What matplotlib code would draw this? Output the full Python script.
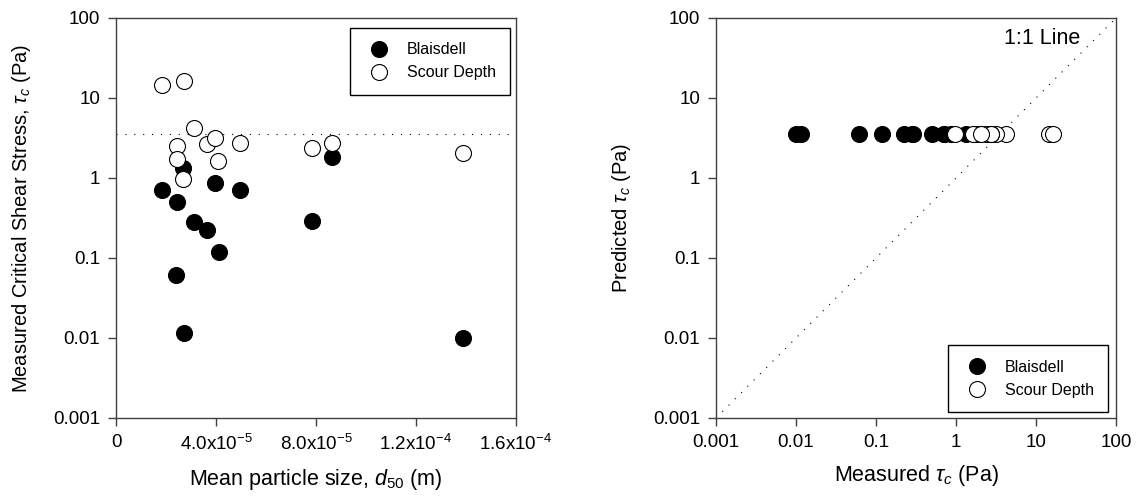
import numpy as np
import matplotlib
matplotlib.use("Agg")
import matplotlib.pyplot as plt

plt.rcParams['font.family'] = ['Liberation Sans', 'DejaVu Sans']
plt.rcParams['mathtext.fontset'] = 'custom'
plt.rcParams['mathtext.rm'] = 'Liberation Sans'
plt.rcParams['mathtext.it'] = 'Liberation Sans:italic'
plt.rcParams['mathtext.default'] = 'regular'

# Blaisdell jet test data: d50 (m) and measured critical shear stress (Pa)
blaisdell_d50 = [1.84e-5, 2.41e-5, 2.43e-5, 2.69e-5, 2.71e-5, 3.13e-5, 3.65e-5,
                 3.95e-5, 4.11e-5, 4.96e-5, 7.85e-5, 8.63e-5, 1.39e-4]
blaisdell_tau = [0.70, 0.061, 0.497, 1.34, 0.0115, 0.279, 0.224,
                 0.86, 0.118, 0.71, 0.293, 1.82, 0.0100]

# Scour depth data
scour_d50 = [1.83e-5, 2.43e-5, 2.43e-5, 2.69e-5, 2.71e-5, 3.13e-5, 3.65e-5,
             3.96e-5, 4.09e-5, 4.96e-5, 7.85e-5, 8.63e-5, 1.39e-4]
scour_tau = [14.5, 2.51, 1.74, 0.97, 16.3, 4.25, 2.64,
             3.13, 1.65, 2.71, 2.35, 2.71, 2.04]

# Model prediction (single value for every sample)
predicted_tau = 3.5

x_ticks = [0, 4.0e-5, 8.0e-5, 1.2e-4, 1.6e-4]
x_ticklabels = ['0', r'4.0x10$^{-5}$', r'8.0x10$^{-5}$',
                r'1.2x10$^{-4}$', r'1.6x10$^{-4}$']
log_ticks = [0.001, 0.01, 0.1, 1, 10, 100]
log_ticklabels = ['0.001', '0.01', '0.1', '1', '10', '100']

spine_col = '#404040'
dots = (0, (1, 7))
msize = 11.5

fig = plt.figure(figsize=(11.42, 5.0), dpi=100)
ax1 = fig.add_axes([116/1142, 82/500, 400/1142, 400/500])
ax2 = fig.add_axes([716/1142, 82/500, 400/1142, 400/500])


def style_axes(ax):
    for s in ax.spines.values():
        s.set_color(spine_col)
        s.set_linewidth(1.0)
    ax.tick_params(which='major', direction='out', length=5.5, width=1,
                   color=spine_col, labelsize=13.5, pad=6)
    ax.tick_params(which='minor', length=0)


def add_legend(ax, loc, anchor):
    leg = ax.legend(loc=loc, bbox_to_anchor=anchor, borderaxespad=0,
                    fancybox=False, edgecolor='black', framealpha=1,
                    fontsize=11.5, handletextpad=0.85, borderpad=0.9,
                    labelspacing=0.5, handlelength=1.8)
    leg.get_frame().set_linewidth(1.0)
    return leg


# Left panel: measured tau_c vs d50
ax1.axhline(predicted_tau, color='black', lw=0.8, ls=dots, zorder=1)
ax1.plot(blaisdell_d50, blaisdell_tau, 'o', color='black', ms=msize,
         mec='black', mew=0.8, label='Blaisdell', zorder=3)
ax1.plot(scour_d50, scour_tau, 'o', mfc='white', ms=msize,
         mec='black', mew=0.8, label='Scour Depth', zorder=4)
ax1.set_yscale('log')
ax1.set_xlim(0, 1.6e-4)
ax1.set_ylim(0.001, 100)
ax1.set_xticks(x_ticks)
ax1.set_xticklabels(x_ticklabels)
ax1.set_yticks(log_ticks)
ax1.set_yticklabels(log_ticklabels)
ax1.set_xlabel(r'Mean particle size, $\mathit{d_{50}}$ (m)', fontsize=15.5, labelpad=9)
ax1.set_ylabel(r'Measured Critical Shear Stress, $\mathit{\tau_c}$ (Pa)', fontsize=14.5, labelpad=14)
style_axes(ax1)
add_legend(ax1, 'upper right', (0.985, 0.975))

# Right panel: predicted vs measured tau_c
ax2.plot([0.001, 100], [0.001, 100], color='black', lw=0.8, ls=dots, zorder=1)
ax2.plot(blaisdell_tau, [predicted_tau] * len(blaisdell_tau), 'o', color='black',
         ms=msize, mec='black', mew=0.8, label='Blaisdell', zorder=3)
ax2.plot(scour_tau, [predicted_tau] * len(scour_tau), 'o', mfc='white',
         ms=msize, mec='black', mew=0.8, label='Scour Depth', zorder=4)
ax2.set_xscale('log')
ax2.set_yscale('log')
ax2.set_xlim(0.001, 100)
ax2.set_ylim(0.001, 100)
ax2.set_xticks(log_ticks)
ax2.set_xticklabels(log_ticklabels)
ax2.set_yticks(log_ticks)
ax2.set_yticklabels(log_ticklabels)
ax2.set_xlabel(r'Measured $\mathit{\tau_c}$ (Pa)', fontsize=15.5, labelpad=9)
ax2.set_ylabel(r'Predicted $\mathit{\tau_c}$ (Pa)', fontsize=14.5, labelpad=14)
ax2.text(0.91, 0.975, '1:1 Line', transform=ax2.transAxes, ha='right',
         va='top', fontsize=15.5)
style_axes(ax2)
add_legend(ax2, 'lower right', (0.98, 0.015))

fig.savefig('out.png', dpi=100)
